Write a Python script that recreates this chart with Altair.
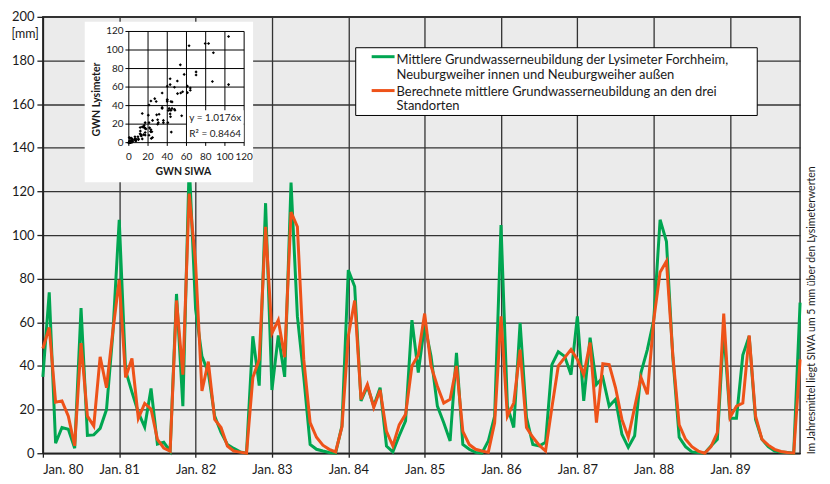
import altair as alt
import pandas as pd

# ---------------- data ----------------
months = list(range(120))  # Jan 1980 .. Dec 1989
year_ticks = list(range(0, 120, 12))
year_labels = ["Jan. 80", "Jan. 81", "Jan. 82", "Jan. 83", "Jan. 84",
               "Jan. 85", "Jan. 86", "Jan. 87", "Jan. 88", "Jan. 89"]
y_ticks = list(range(0, 201, 20))

# mittlere Grundwasserneubildung Lysimeter (green)
lysimeter = [35, 73.7, 4.6, 11.8, 11, 2.3, 66.5, 8.2, 8.4, 11.4, 20, 55,
             107, 38, 28, 18.7, 12, 29.7, 4.2, 5, 1, 73, 21.6, 133,
             66, 44.4, 37, 17, 9.5, 4, 2.2, 0.6, 0, 53.6, 31, 114.6,
             29, 54, 35, 124, 62.7, 35, 4, 1.8, 1, 0.3, 0, 12.5,
             84, 76.4, 24, 30.7, 21.6, 30, 3.3, 0.6, 8, 14.8, 61, 37,
             59, 44.4, 21.6, 14, 5.6, 46, 4, 1.8, 0.4, 0, 5.6, 17,
             104.6, 21.6, 11.8, 59.8, 16.4, 4, 3.3, 5, 40.6, 46.5, 44.4, 36,
             62.7, 24, 53, 31.5, 34.7, 21.6, 24.7, 8.7, 2.7, 8, 37, 47.5,
             61, 107, 97, 44, 7.3, 3, 0.6, 0.3, 0, 3.3, 6.4, 56.6,
             16, 16, 45, 53.6, 15.5, 6.4, 3, 1, 0.6, 0.3, 0, 69]

# berechnete mittlere Grundwasserneubildung SIWA (orange)
siwa = [48, 57.6, 23.4, 24, 17, 3.4, 50.5, 17, 12.5, 44.2, 30, 56,
        79.5, 34.7, 43.4, 16, 22.8, 20.3, 6.4, 2.4, 1, 70, 36, 119,
        87, 28.5, 42, 15.5, 11.8, 3.3, 1, 0.5, 0, 34.7, 43, 103.8,
        55, 61, 44, 110.5, 103.8, 43, 14, 7.3, 3.7, 1.8, 0.6, 12,
        53.6, 70, 24.7, 31.5, 21, 29, 10, 3.3, 13, 17.8, 40, 45,
        64, 40, 30.7, 23, 24.7, 40, 10, 4, 1.8, 1, 0.4, 14,
        62.7, 17, 23, 47.5, 11.8, 7.3, 3.7, 1, 21, 40, 43.8, 47.5,
        43, 36, 50.7, 14, 41, 40.6, 30, 15.5, 7.3, 21, 34.7, 27,
        61, 83, 88, 45, 13, 6.4, 3, 1, 0, 3, 9.5, 64,
        16.4, 21.6, 23, 54, 17, 6.4, 3.7, 1.8, 0.8, 0.3, 0, 43]

series_names = ["Lysimeter", "SIWA"]
legend_lines = ["Mittlere Grundwasserneubildung der Lysimeter Forchheim,",
                "Neuburgweiher innen und Neuburgweiher außen",
                "Berechnete mittlere Grundwasserneubildung an den drei",
                "Standorten"]
side_note = "Im Jahresmittel liegt SIWA um 5 mm über den Lysimeterwerten"
inset_ticks = [0, 20, 40, 60, 80, 100, 120]
fit_text = ["y = 1.0176x", "R\u00b2 = 0.8464"]

GREEN = "#00a651"
ORANGE = "#ee5219"
FONT = "Lato"

# ---------------- main chart ----------------
long = pd.DataFrame({
    "m": months * 2,
    "v": lysimeter + siwa,
    "s": [series_names[0]] * 120 + [series_names[1]] * 120,
})

label_expr = "[" + ",".join("'%s'" % l for l in year_labels) + "][datum.value / 12]"

lines = alt.Chart(long).mark_line(strokeWidth=3).encode(
    x=alt.X("m:Q", scale=alt.Scale(domain=[0, 119], nice=False, zero=False),
            axis=alt.Axis(values=year_ticks, labelExpr=label_expr, title=None,
                          grid=True, tickSize=4, labelPadding=6)),
    y=alt.Y("v:Q", scale=alt.Scale(domain=[0, 200], nice=False),
            axis=alt.Axis(values=y_ticks, title=None, grid=True,
                          tickSize=6, labelPadding=3)),
    color=alt.Color("s:N", scale=alt.Scale(domain=series_names, range=[GREEN, ORANGE]),
                    legend=None),
)

unit = alt.Chart(pd.DataFrame({"t": ["[mm]"]})).mark_text(
    align="right", baseline="middle", fontSize=12.5, font=FONT, color="#1a1a1a"
).encode(x=alt.value(-4), y=alt.value(17), text="t:N")

note = alt.Chart(pd.DataFrame({"t": [side_note]})).mark_text(
    angle=270, align="left", baseline="middle", fontSize=10.5, font=FONT, color="#1a1a1a"
).encode(x=alt.value(772), y=alt.value(439), text="t:N")

legend_box = alt.Chart(pd.DataFrame({"a": [0]})).mark_rect(
    fill="white", stroke="black", strokeWidth=1
).encode(x=alt.value(314), x2=alt.value(717), y=alt.value(31), y2=alt.value(99))

legend_marks = [legend_box]
for col, ypix in zip([GREEN, ORANGE], [40, 74]):
    legend_marks.append(
        alt.Chart(pd.DataFrame({"a": [0]})).mark_rule(strokeWidth=3, color=col).encode(
            x=alt.value(330), x2=alt.value(353), y=alt.value(ypix))
    )
for txt, ypix in zip(legend_lines, [43, 58, 75, 90]):
    legend_marks.append(
        alt.Chart(pd.DataFrame({"t": [txt]})).mark_text(
            align="left", baseline="middle", fontSize=13, font=FONT, color="#1a1a1a"
        ).encode(x=alt.value(355), y=alt.value(ypix), text="t:N")
    )

main = alt.layer(lines, unit, note, *legend_marks)

# ---------------- inset scatter ----------------
xi = alt.Scale(domain=[-4, 120], range=[82.4, 202], nice=False, zero=False)
yi = alt.Scale(domain=[-4, 120], range=[130, 14.7], nice=False, zero=False)

inset_bg = alt.Chart(pd.DataFrame({"a": [0]})).mark_rect(fill="white").encode(
    x=alt.value(42), x2=alt.value(211), y=alt.value(5), y2=alt.value(166))

tick_df = pd.DataFrame({"t": inset_ticks})
vgrid = alt.Chart(tick_df).mark_rule(color="black", strokeWidth=1).encode(
    x=alt.X("t:Q", scale=xi, axis=None),
    y=alt.Y(datum=-3.5, scale=yi, axis=None),
    y2=alt.Y2(datum=120),
)
hgrid = alt.Chart(tick_df).mark_rule(color="black", strokeWidth=1).encode(
    y=alt.Y("t:Q", scale=yi, axis=None),
    x=alt.X(datum=-3.5, scale=xi, axis=None),
    x2=alt.X2(datum=120),
)
fit_box = alt.Chart(pd.DataFrame({"a": [0]})).mark_rect(fill="white").encode(
    x=alt.X(datum=60.5, scale=xi, axis=None), x2=alt.X2(datum=119.5),
    y=alt.Y(datum=0.6, scale=yi, axis=None), y2=alt.Y2(datum=35),
)
pairs = pd.DataFrame({"siwa": siwa, "lys": lysimeter})
points = alt.Chart(pairs).transform_filter(
    "datum.siwa <= 120 && datum.lys <= 120"
).mark_point(shape="diamond", filled=True, size=10, color="black", opacity=1).encode(
    x=alt.X("siwa:Q", scale=xi, axis=None),
    y=alt.Y("lys:Q", scale=yi, axis=None),
)
xlabels = alt.Chart(tick_df).mark_text(
    align="center", baseline="middle", fontSize=10, font=FONT, color="#1a1a1a"
).encode(x=alt.X("t:Q", scale=xi, axis=None), y=alt.value(141), text="t:Q")
ylabels = alt.Chart(tick_df).mark_text(
    align="right", baseline="middle", fontSize=10, font=FONT, color="#1a1a1a"
).encode(y=alt.Y("t:Q", scale=yi, axis=None), x=alt.value(81), text="t:Q")
xtitle = alt.Chart(pd.DataFrame({"t": ["GWN SIWA"]})).mark_text(
    align="center", baseline="middle", fontSize=10.5, font=FONT, fontWeight="bold",
    color="#1a1a1a"
).encode(x=alt.value(141), y=alt.value(156), text="t:N")
ytitle = alt.Chart(pd.DataFrame({"t": ["GWN Lysimeter"]})).mark_text(
    angle=270, align="center", baseline="middle", fontSize=10.5, font=FONT,
    fontWeight="bold", color="#1a1a1a"
).encode(x=alt.value(54), y=alt.value(83), text="t:N")
fit_df = pd.DataFrame({"t": fit_text, "yy": [26.5, 9.5]})
fit_lbl = alt.Chart(fit_df).mark_text(
    align="left", baseline="middle", fontSize=10, font=FONT, color="#1a1a1a"
).encode(x=alt.X(datum=63, scale=xi, axis=None),
         y=alt.Y("yy:Q", scale=yi, axis=None), text="t:N")

inset = alt.layer(inset_bg, vgrid, hgrid, fit_box, points, xlabels, ylabels,
                  xtitle, ytitle, fit_lbl)

chart = alt.layer(main, inset).resolve_scale(
    x="independent", y="independent"
).properties(
    width=760, height=438,
    padding={"left": 35, "top": 8, "right": 22, "bottom": 26},
    autosize=alt.AutoSizeParams(type="none"),
).configure_view(
    fill="#ebebeb", stroke="#333333", strokeWidth=1.5
).configure_axis(
    gridColor="#333333", gridWidth=1.3, gridOpacity=1,
    domainColor="#222222", domainWidth=1.5, tickColor="#222222", tickWidth=1.3,
    labelFont=FONT, labelFontSize=13, labelColor="#1a1a1a",
)

chart.save("out.html", embed_options={"renderer": "svg", "actions": False})
